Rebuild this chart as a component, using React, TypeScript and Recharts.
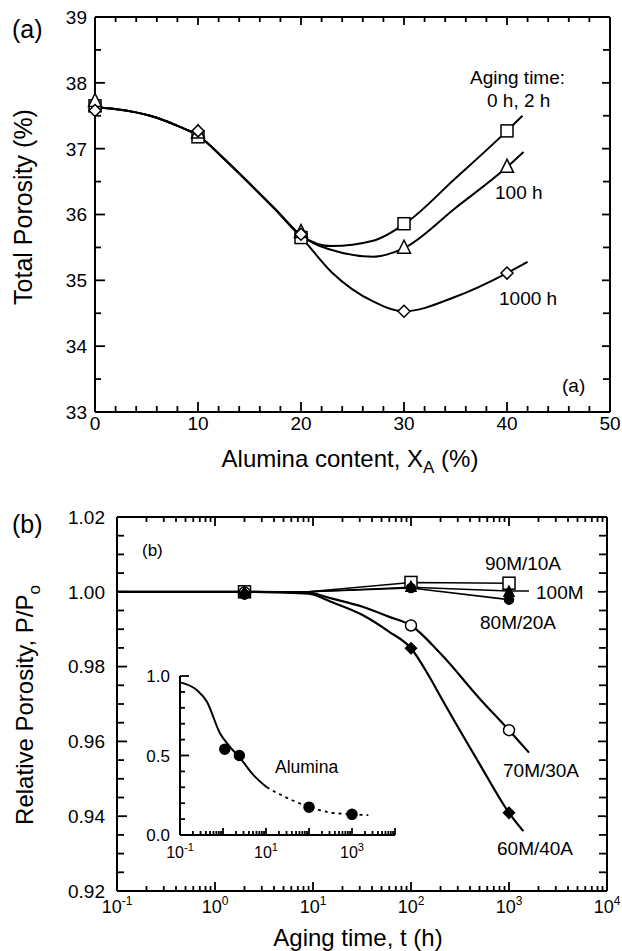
import React from "react";
import { ComposedChart, Line, Scatter, XAxis, YAxis } from "recharts";

const FONT = '"Liberation Sans", Arial, Helvetica, sans-serif';

// ---------- panel (a): total porosity vs alumina content ----------
const aluminaPct = [0, 10, 20, 30, 40];
const porosity0h2h = [37.65, 37.18, 35.65, 35.86, 37.27];
const porosity100h = [37.72, 37.24, 35.73, 35.49, 36.72];
const porosity1000h = [37.58, 37.27, 35.7, 34.53, 35.11];

// smooth curves drawn through the points
const fit0hX = [0, 3, 6, 8.25, 10, 12.5, 15, 17.5, 20, 23, 27, 30, 35, 40, 41.5];
const fit0hY = [37.63, 37.58, 37.47, 37.33, 37.2, 36.85, 36.47, 36.08, 35.68, 35.52, 35.6, 35.85, 36.55, 37.27, 37.5];
const fit100hX = [0, 3, 6, 8.25, 10, 12.5, 15, 17.5, 20, 23, 27, 30, 35, 40, 41.6];
const fit100hY = [37.63, 37.58, 37.47, 37.33, 37.2, 36.85, 36.47, 36.08, 35.68, 35.46, 35.36, 35.49, 36.1, 36.72, 36.95];
const fit1000hX = [0, 3, 6, 8.25, 10, 12.5, 15, 17.5, 20, 23, 27, 30, 35, 40, 42];
const fit1000hY = [37.63, 37.58, 37.47, 37.33, 37.2, 36.85, 36.47, 36.08, 35.66, 35.12, 34.68, 34.53, 34.75, 35.11, 35.28];

const aluminaTicks = [0, 2, 4, 6, 8, 10, 12, 14, 16, 18, 20, 22, 24, 26, 28, 30, 32, 34, 36, 38, 40, 42, 44, 46, 48, 50];
const porosityTicks = [33, 33.5, 34, 34.5, 35, 35.5, 36, 36.5, 37, 37.5, 38, 38.5, 39];

// ---------- panel (b): relative porosity vs aging time ----------
const agingHours = [2, 100, 1000];
const rel90M10A = [1.0, 1.0025, 1.0023];
const rel100M = [0.9997, 1.0012, 0.9999];
const rel80M20A = [0.9993, 1.001, 0.9979];
const rel70M30A = [0.9998, 0.991, 0.963];
const rel60M40A = [0.9995, 0.9849, 0.9409];

const fit90X = [0.1, 9, 100, 1000];
const fit90Y = [1.0, 1.0, 1.0025, 1.0023];
const fit100X = [0.1, 9, 100, 1000, 1600];
const fit100Y = [1.0, 1.0, 1.0012, 1.0002, 1.0002];
const fit80X = [0.1, 9, 100, 1000];
const fit80Y = [1.0, 1.0, 1.001, 0.9979];
const fit70X = [0.1, 2, 9, 15, 32, 60, 100, 200, 500, 1000, 1600];
const fit70Y = [1.0, 1.0, 0.9998, 0.9983, 0.996, 0.9933, 0.991, 0.9835, 0.9715, 0.963, 0.957];
const fit60X = [0.1, 2, 9, 15, 32, 60, 100, 154, 210, 500, 1000, 1400];
const fit60Y = [1.0, 1.0, 0.9995, 0.9974, 0.9938, 0.9893, 0.9849, 0.9773, 0.971, 0.954, 0.9409, 0.936];

const relTicks = [
  0.92, 0.925, 0.93, 0.935, 0.94, 0.945, 0.95, 0.955, 0.96, 0.965, 0.97,
  0.975, 0.98, 0.985, 0.99, 0.995, 1.0, 1.005, 1.01, 1.015, 1.02,
];

// ---------- inset: alumina ----------
const insetHours = [1.1, 2.4, 100, 1000];
const insetRel = [0.54, 0.5, 0.175, 0.13];
const insetSolidX = [0.1, 0.25, 0.42, 0.85, 1.5, 2.4, 5, 10.4];
const insetSolidY = [0.96, 0.91, 0.84, 0.64, 0.55, 0.49, 0.38, 0.3];
const insetDashX = [10.4, 18, 36, 100, 300, 1000, 2400];
const insetDashY = [0.3, 0.265, 0.225, 0.178, 0.142, 0.13, 0.125];
const insetYTicks = [0, 0.1, 0.2, 0.3, 0.4, 0.5, 0.6, 0.7, 0.8, 0.9, 1.0];
const insetLabelled = [0.1, 10, 1000];

const pts = (xs: number[], ys: number[]) => xs.map((x, i) => ({ x, y: ys[i] }));

function logTicks(lo: number, hi: number) {
  const out: number[] = [];
  for (let e = lo; e < hi; e++) {
    for (let m = 1; m < 10; m++) out.push(+(m * Math.pow(10, e)).toPrecision(6));
  }
  out.push(Math.pow(10, hi));
  return out;
}
const timeTicks = logTicks(-1, 4);
const isDecade = (v: number) => Math.abs(Math.log10(v) - Math.round(Math.log10(v))) < 1e-6;
const near = (v: number, step: number) => Math.abs(v / step - Math.round(v / step)) < 1e-6;

const axisStyle = { stroke: "#000", strokeWidth: 2 };

// plot boxes (these follow from the chart sizes / margins / axis sizes below)
const boxA = { l: 95, r: 610, t: 17, b: 412 };
const boxB = { l: 117, r: 607, t: 517, b: 891 };
const boxI = { l: 180, r: 395, t: 676, b: 835 };

type Side = "bottom" | "left";
interface LabelCfg {
  side: Side;
  show: (v: number) => boolean;
  label: (v: number) => React.ReactNode;
  offset: number;
  fontSize: number;
}

const makeLabel = (cfg: LabelCfg) => (props: any) => {
  const { x, y, payload } = props;
  const v = payload.value as number;
  if (!cfg.show(v)) return <g />;
  const fs = cfg.fontSize;
  if (cfg.side === "bottom") {
    return (
      <text x={x} y={y + cfg.offset} textAnchor="middle" fontSize={fs} fontFamily={FONT} fill="#000">
        {cfg.label(v)}
      </text>
    );
  }
  return (
    <text x={x - cfg.offset} y={y + fs * 0.36} textAnchor="end" fontSize={fs} fontFamily={FONT} fill="#000">
      {cfg.label(v)}
    </text>
  );
};

const pow10Label = (fs: number, sup: number) => (v: number) => {
  const e = Math.round(Math.log10(v));
  return [
    <tspan key="b">10</tspan>,
    <tspan key="e" dy={-fs * 0.42} fontSize={sup}>
      {String(e)}
    </tspan>,
  ];
};

// marker shapes
const openSquare = (s: number) => (p: any) => (
  <rect x={p.cx - s / 2} y={p.cy - s / 2} width={s} height={s} fill="#fff" stroke="#000" strokeWidth={1.5} />
);
const triangle = (s: number, fill: string) => (p: any) => (
  <polygon
    points={`${p.cx},${p.cy - s * 0.6} ${p.cx - s / 2},${p.cy + s * 0.4} ${p.cx + s / 2},${p.cy + s * 0.4}`}
    fill={fill}
    stroke="#000"
    strokeWidth={1.5}
  />
);
const diamond = (s: number, fill: string) => (p: any) => (
  <polygon
    points={`${p.cx},${p.cy - s / 2} ${p.cx + s / 2},${p.cy} ${p.cx},${p.cy + s / 2} ${p.cx - s / 2},${p.cy}`}
    fill={fill}
    stroke="#000"
    strokeWidth={1.5}
  />
);
const circle = (r: number, fill: string) => (p: any) => (
  <circle cx={p.cx} cy={p.cy} r={r} fill={fill} stroke="#000" strokeWidth={1.5} />
);

const curve = { stroke: "#000", strokeWidth: 2, dot: false, isAnimationActive: false, activeDot: false } as const;

const common = {
  type: "number" as const,
  interval: 0 as const,
  tickMargin: 0,
  tickSize: 0,
  axisLine: axisStyle,
  tickLine: false,
};

function PanelA() {
  const intMajor = (v: number) => near(v, 1);
  const tenMajor = (v: number) => near(v, 10);
  return (
    <ComposedChart width={622} height={480} margin={{ top: 16, right: 11, bottom: 38, left: 35 }}>
      <XAxis
        {...common}
        dataKey="x"
        domain={[0, 50]}
        ticks={aluminaTicks}
        height={30}
        tick={makeLabel({ side: "bottom", show: tenMajor, label: (v) => String(v), offset: 18, fontSize: 19 })}
      />
      <XAxis {...common} xAxisId="top" orientation="top" dataKey="x" domain={[0, 50]} ticks={aluminaTicks} height={1} tick={false} />
      <YAxis
        {...common}
        dataKey="y"
        domain={[33, 39]}
        ticks={porosityTicks}
        width={60}
        tick={makeLabel({ side: "left", show: intMajor, label: (v) => String(v), offset: 8, fontSize: 19 })}
      />
      <YAxis {...common} yAxisId="right" orientation="right" dataKey="y" domain={[33, 39]} ticks={porosityTicks} width={1} tick={false} />
      <Line data={pts(fit0hX, fit0hY)} dataKey="y" type="monotone" {...curve} />
      <Line data={pts(fit100hX, fit100hY)} dataKey="y" type="monotone" {...curve} />
      <Line data={pts(fit1000hX, fit1000hY)} dataKey="y" type="monotone" {...curve} />
      <Scatter data={pts(aluminaPct, porosity0h2h)} dataKey="y" shape={openSquare(12)} isAnimationActive={false} />
      <Scatter data={pts(aluminaPct, porosity100h)} dataKey="y" shape={triangle(13, "#fff")} isAnimationActive={false} />
      <Scatter data={pts(aluminaPct, porosity1000h)} dataKey="y" shape={diamond(12, "#fff")} isAnimationActive={false} />
    </ComposedChart>
  );
}

function PanelB() {
  const majorRel = (v: number) => near(v, 0.02);
  return (
    <ComposedChart width={622} height={461} margin={{ top: 26, right: 14, bottom: 30, left: 57 }}>
      <XAxis
        {...common}
        dataKey="x"
        scale="log"
        domain={[0.1, 10000]}
        ticks={timeTicks}
        height={30}
        tick={makeLabel({ side: "bottom", show: isDecade, label: pow10Label(18, 12), offset: 22, fontSize: 18 })}
      />
      <XAxis {...common} xAxisId="top" orientation="top" dataKey="x" scale="log" domain={[0.1, 10000]} ticks={timeTicks} height={1} tick={false} />
      <YAxis
        {...common}
        dataKey="y"
        domain={[0.92, 1.02]}
        ticks={relTicks}
        width={60}
        tick={makeLabel({ side: "left", show: majorRel, label: (v) => v.toFixed(2), offset: 12, fontSize: 19 })}
      />
      <YAxis {...common} yAxisId="right" orientation="right" dataKey="y" domain={[0.92, 1.02]} ticks={relTicks} width={1} tick={false} />
      <Line data={pts(fit90X, fit90Y)} dataKey="y" type="linear" {...curve} strokeWidth={1.6} />
      <Line data={pts(fit100X, fit100Y)} dataKey="y" type="linear" {...curve} strokeWidth={1.6} />
      <Line data={pts(fit80X, fit80Y)} dataKey="y" type="linear" {...curve} strokeWidth={1.6} />
      <Line data={pts(fit70X, fit70Y)} dataKey="y" type="monotone" {...curve} strokeWidth={2.2} />
      <Line data={pts(fit60X, fit60Y)} dataKey="y" type="monotone" {...curve} strokeWidth={2.2} />
      <Scatter data={pts(agingHours, rel90M10A)} dataKey="y" shape={openSquare(12)} isAnimationActive={false} />
      <Scatter data={pts(agingHours, rel70M30A)} dataKey="y" shape={circle(5.5, "#fff")} isAnimationActive={false} />
      <Scatter data={pts(agingHours, rel100M)} dataKey="y" shape={triangle(10, "#000")} isAnimationActive={false} />
      <Scatter data={pts(agingHours, rel80M20A)} dataKey="y" shape={circle(4.5, "#000")} isAnimationActive={false} />
      <Scatter data={pts(agingHours, rel60M40A)} dataKey="y" shape={diamond(11, "#000")} isAnimationActive={false} />
    </ComposedChart>
  );
}

function Inset() {
  return (
    <ComposedChart width={290} height={210} margin={{ top: 16, right: 15, bottom: 10, left: 20 }}>
      <XAxis
        {...common}
        dataKey="x"
        scale="log"
        domain={[0.1, 10000]}
        ticks={timeTicks}
        height={25}
        tick={makeLabel({
          side: "bottom",
          show: (v) => insetLabelled.some((t) => Math.abs(t - v) < 1e-9),
          label: pow10Label(16, 11),
          offset: 23,
          fontSize: 16,
        })}
      />
      <YAxis
        {...common}
        dataKey="y"
        domain={[0, 1]}
        ticks={insetYTicks}
        width={40}
        tick={makeLabel({ side: "left", show: (v) => near(v, 0.5), label: (v) => v.toFixed(1), offset: 10, fontSize: 17 })}
      />
      <Line data={pts(insetSolidX, insetSolidY)} dataKey="y" type="monotone" {...curve} />
      <Line data={pts(insetDashX, insetDashY)} dataKey="y" type="monotone" {...curve} strokeWidth={1.8} strokeDasharray="3 4" />
      <Scatter data={pts(insetHours, insetRel)} dataKey="y" shape={circle(5, "#000")} isAnimationActive={false} />
    </ComposedChart>
  );
}

// inward tick marks for a plot box
type Box = { l: number; r: number; t: number; b: number };
const linMap = (lo: number, hi: number, a: number, b: number) => (v: number) => a + ((v - lo) / (hi - lo)) * (b - a);
const logMap = (lo: number, hi: number, a: number, b: number) => (v: number) =>
  a + ((Math.log10(v) - Math.log10(lo)) / (Math.log10(hi) - Math.log10(lo))) * (b - a);

type Seg = { x1: number; y1: number; x2: number; y2: number };

function tickSegs(
  box: Box,
  fx: (v: number) => number,
  fy: (v: number) => number,
  xt: number[],
  yt: number[],
  xMaj: (v: number) => boolean,
  yMaj: (v: number) => boolean,
  len: { bM: number; bm: number; tM: number; tm: number; lM: number; lm: number; rM: number; rm: number },
  both: boolean
) {
  const segs: Seg[] = [];
  xt.forEach((v) => {
    const x = fx(v);
    const m = xMaj(v);
    segs.push({ x1: x, y1: box.b, x2: x, y2: box.b - (m ? len.bM : len.bm) });
    if (both) segs.push({ x1: x, y1: box.t, x2: x, y2: box.t + (m ? len.tM : len.tm) });
  });
  yt.forEach((v) => {
    const y = fy(v);
    const m = yMaj(v);
    segs.push({ x1: box.l, y1: y, x2: box.l + (m ? len.lM : len.lm), y2: y });
    if (both) segs.push({ x1: box.r, y1: y, x2: box.r - (m ? len.rM : len.rm), y2: y });
  });
  return segs;
}

function Overlay() {
  const t = { fontFamily: FONT, fill: "#000" };
  const ax = linMap(0, 50, boxA.l, boxA.r);
  const ay = linMap(33, 39, boxA.b, boxA.t);
  const bx = logMap(0.1, 10000, boxB.l, boxB.r);
  const by = linMap(0.92, 1.02, boxB.b, boxB.t);
  const ix = logMap(0.1, 10000, boxI.l, boxI.r);
  const iy = linMap(0, 1, boxI.b, boxI.t);
  const segs = [
    ...tickSegs(boxA, ax, ay, aluminaTicks, porosityTicks, (v) => near(v, 10), (v) => near(v, 1),
      { bM: 10, bm: 6, tM: 8, tm: 5, lM: 10, lm: 6, rM: 8, rm: 7 }, true),
    ...tickSegs(boxB, bx, by, timeTicks, relTicks, isDecade, (v) => near(v, 0.02),
      { bM: 9, bm: 5, tM: 9, tm: 5, lM: 10, lm: 7, rM: 9, rm: 8 }, true),
    ...tickSegs(boxI, ix, iy, timeTicks, insetYTicks, isDecade, (v) => near(v, 0.5),
      { bM: 7, bm: 4, tM: 0, tm: 0, lM: 9, lm: 5, rM: 0, rm: 0 }, false),
  ];
  return (
    <svg width={622} height={951} style={{ position: "absolute", left: 0, top: 0, pointerEvents: "none" }}>
      <g stroke="#000" strokeWidth={1.8}>
        {segs.map((s, i) => (
          <line key={i} x1={s.x1} y1={s.y1} x2={s.x2} y2={s.y2} />
        ))}
      </g>

      {/* panel (a) */}
      <text x={12} y={38} fontSize={25} {...t}>(a)</text>
      <text transform="translate(32,207) rotate(-90)" textAnchor="middle" fontSize={25} {...t}>Total Porosity (%)</text>
      <text x={350} y={467} textAnchor="middle" fontSize={24} {...t}>
        Alumina content, X<tspan dy={6} fontSize={17}>A</tspan>
        <tspan dy={-6}> (%)</tspan>
      </text>
      <text x={470} y={84} fontSize={19} {...t}>Aging time:</text>
      <text x={487} y={107} fontSize={19} {...t}>0 h, 2 h</text>
      <text x={495} y={199} fontSize={19} {...t}>100 h</text>
      <text x={499} y={305} fontSize={19} {...t}>1000 h</text>
      <text x={562} y={392} fontSize={19} {...t}>(a)</text>

      {/* panel (b) */}
      <text x={12} y={533} fontSize={25} {...t}>(b)</text>
      <text x={142} y={556} fontSize={17} {...t}>(b)</text>
      <text transform="translate(33,705) rotate(-90)" textAnchor="middle" fontSize={24} {...t}>
        Relative Porosity, P/P<tspan dy={7} fontSize={17}>o</tspan>
      </text>
      <text x={358} y={946} textAnchor="middle" fontSize={24} {...t}>Aging time, t (h)</text>
      <text x={485} y={570} fontSize={19} {...t}>90M/10A</text>
      <text x={536} y={599} fontSize={19} {...t}>100M</text>
      <text x={480} y={629} fontSize={19} {...t}>80M/20A</text>
      <text x={503} y={777} fontSize={19} {...t}>70M/30A</text>
      <text x={497} y={855} fontSize={19} {...t}>60M/40A</text>
      <text x={275} y={773} fontSize={17.5} {...t}>Alumina</text>
    </svg>
  );
}

export default function App() {
  return (
    <div style={{ position: "absolute", left: 0, top: 0, width: 622, height: 951, background: "#fff", fontFamily: FONT }}>
      <div style={{ position: "absolute", left: 0, top: 0 }}>
        <PanelA />
      </div>
      <div style={{ position: "absolute", left: 0, top: 490 }}>
        <PanelB />
      </div>
      <div style={{ position: "absolute", left: 120, top: 660 }}>
        <Inset />
      </div>
      <Overlay />
    </div>
  );
}
